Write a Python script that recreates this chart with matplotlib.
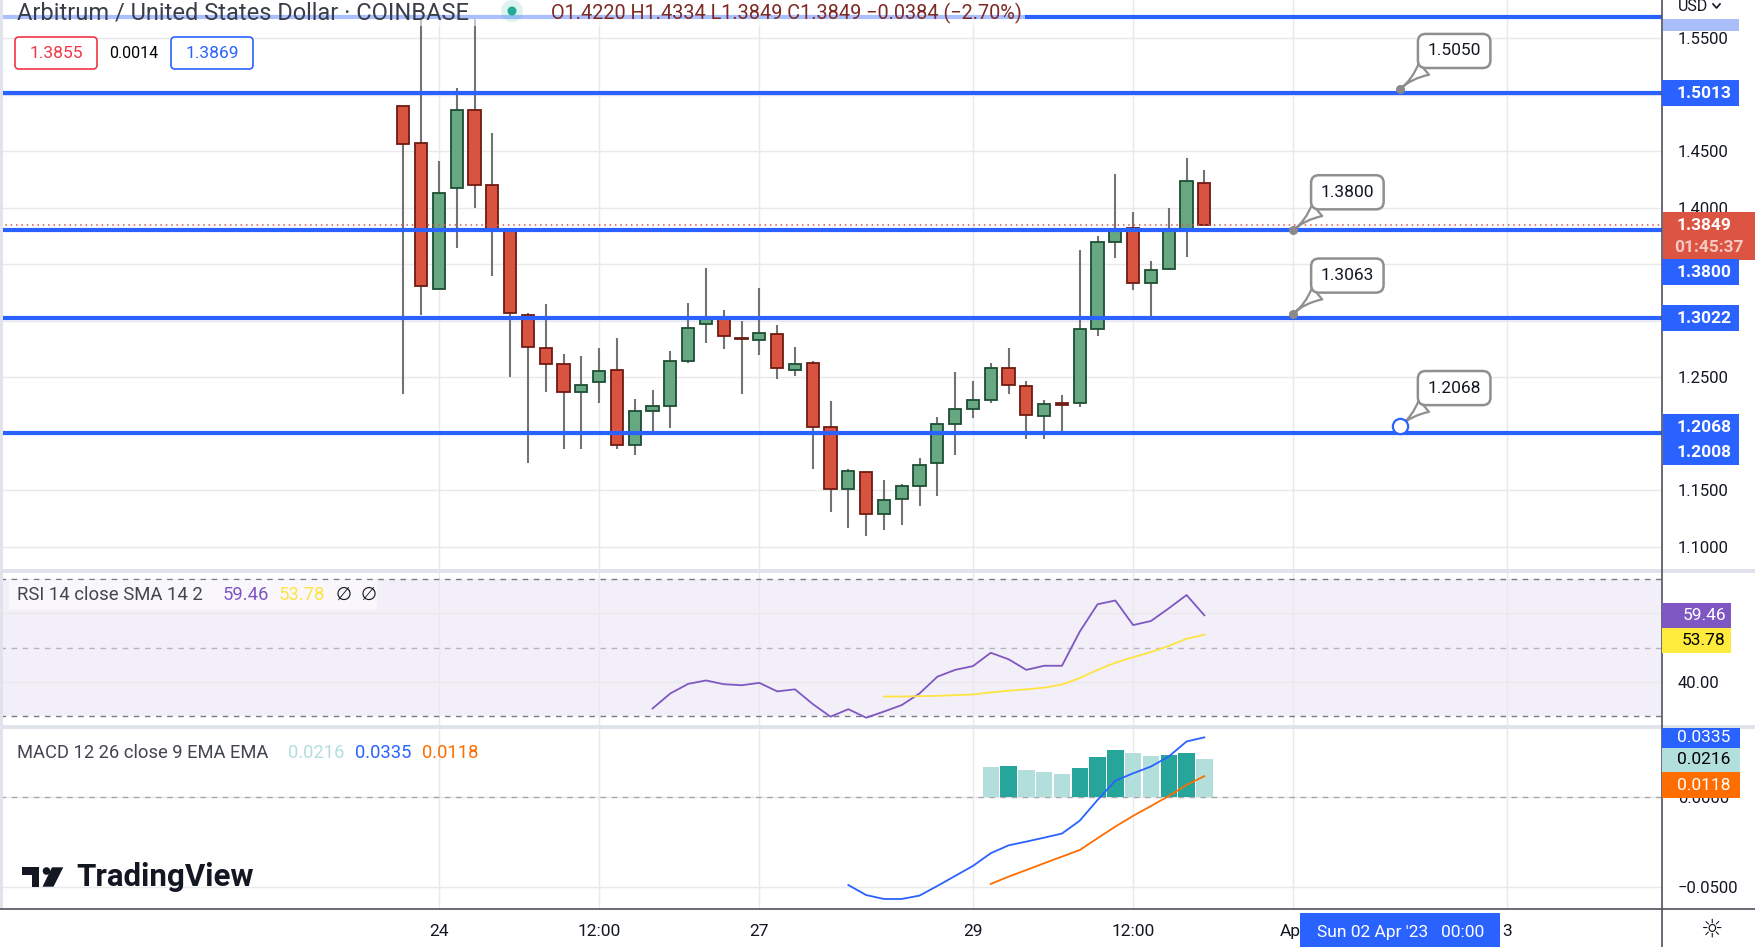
import numpy as np
import matplotlib
matplotlib.use("Agg")
import matplotlib.pyplot as plt
import matplotlib.transforms as mtransforms
from matplotlib.patches import Rectangle, Polygon, Circle, FancyBboxPatch
from matplotlib.lines import Line2D

plt.rcParams['font.family'] = ['Roboto', 'DejaVu Sans']

# ---- candles (index 1..46) ----
opens  = [1.4896, 1.4569, 1.3283, 1.4171, 1.4861, 1.4197, 1.3799, 1.3047, 1.2755, 1.2614,
          1.2366, 1.2454, 1.2560, 1.1897, 1.2198, 1.2242, 1.2640, 1.2967, 1.3029, 1.2845,
          1.2826, 1.2879, 1.2560, 1.2622, 1.2056, 1.1514, 1.1658, 1.1287, 1.1419, 1.1534,
          1.1738, 1.2083, 1.2215, 1.2295, 1.2578, 1.2419, 1.2153, 1.2268, 1.2268, 1.2923,
          1.3693, 1.3817, 1.3330, 1.3454, 1.3799, 1.4220]
highs  = [1.4896, 1.5670, 1.4412, 1.5056, 1.5670, 1.4660, 1.3799, 1.3068, 1.3147, 1.2705,
          1.2687, 1.2758, 1.2846, 1.2307, 1.2387, 1.2731, 1.3156, 1.3466, 1.3094, 1.2997,
          1.3289, 1.2962, 1.2767, 1.2643, 1.2290, 1.1685, 1.1658, 1.1590, 1.1555, 1.1785,
          1.2148, 1.2546, 1.2466, 1.2625, 1.2758, 1.2463, 1.2295, 1.2342, 1.3622, 1.3749,
          1.4297, 1.3961, 1.3528, 1.3997, 1.4439, 1.4334]
lows   = [1.2348, 1.3053, 1.3283, 1.3646, 1.4000, 1.3398, 1.2504, 1.1744, 1.2372, 1.1862,
          1.1867, 1.2268, 1.1862, 1.1814, 1.2024, 1.2053, 1.2628, 1.2805, 1.2746, 1.2348,
          1.2693, 1.2481, 1.2507, 1.1685, 1.1310, 1.1169, 1.1098, 1.1151, 1.1195, 1.1363,
          1.1452, 1.1814, 1.2142, 1.2268, 1.2348, 1.1956, 1.1956, 1.2024, 1.2239, 1.2867,
          1.3557, 1.3274, 1.3041, 1.3445, 1.3566, 1.3849]
closes = [1.4560, 1.3304, 1.4126, 1.4861, 1.4197, 1.3790, 1.3065, 1.2764, 1.2614, 1.2366,
          1.2428, 1.2552, 1.1897, 1.2198, 1.2242, 1.2640, 1.2932, 1.3029, 1.2861, 1.2840,
          1.2888, 1.2578, 1.2614, 1.2056, 1.1509, 1.1670, 1.1287, 1.1410, 1.1534, 1.1720,
          1.2083, 1.2215, 1.2295, 1.2578, 1.2428, 1.2162, 1.2260, 1.2251, 1.2923, 1.3693,
          1.3808, 1.3330, 1.3445, 1.3799, 1.4233, 1.3849]

level_prices = [1.5687, 1.5013, 1.3800, 1.3022, 1.2008]
last_close = 1.3849

callout_x = [57, 51, 51, 57]
callout_y = [1.5050, 1.3800, 1.3063, 1.2068]
callout_text = ['1.5050', '1.3800', '1.3063', '1.2068']

rsi_start = 15
rsi_vals = [32.2, 36.6, 39.4, 40.4, 39.3, 39.0, 39.7, 37.2, 37.8, 33.5, 29.8, 32.0, 29.5, 31.3,
            33.2, 36.6, 41.5, 43.5, 44.6, 48.5, 46.6, 43.5, 44.7, 44.7, 54.7, 62.7, 63.8, 56.6,
            57.8, 61.5, 65.4, 59.46]
rsi_sma_start = 28
rsi_sma = [35.7, 35.7, 35.8, 35.9, 36.1, 36.3, 36.9, 37.4, 37.8, 38.3, 39.2, 41.1, 43.5, 45.6,
           47.2, 48.7, 50.5, 52.6, 53.78]

macd_start = 26
macd_line = [-0.0491, -0.0547, -0.0569, -0.0569, -0.0550, -0.0496, -0.0440, -0.0384, -0.0313,
             -0.0269, -0.0248, -0.0226, -0.0203, -0.0131, -0.0015, 0.0093, 0.0134, 0.0172,
             0.0228, 0.0312, 0.0335]
signal_start = 34
signal_line = [-0.0485, -0.0444, -0.0407, -0.0369, -0.0332, -0.0295, -0.0229, -0.0164, -0.0104,
               -0.0049, 0.0007, 0.0069, 0.0118]
hist_vals = [0.0170, 0.0175, 0.0153, 0.0142, 0.0131, 0.0164, 0.0226, 0.0265, 0.0248, 0.0231,
             0.0234, 0.0248, 0.0216]

time_tick_pos = [3, 12, 21, 33, 42, 51, 63]
time_tick_labels = ['24', '12:00', '27', '29', '12:00', 'Apr', '3']
price_ticks = [1.10, 1.15, 1.20, 1.25, 1.30, 1.35, 1.40, 1.45, 1.50, 1.55]
# price labels that sit fully under a tag are not shown on the chart
hidden_price_ticks = [1.20, 1.30, 1.35, 1.50]
crosshair_x = 57

# ---- figure / panes (pixel layout) ----
W, H = 1756, 947
AX_R = 1662
fig = plt.figure(figsize=(W / 100, H / 100), dpi=100)
ident = mtransforms.IdentityTransform()
GRID = '#e9e9ec'
TXT = '#131722'


def pane(top, bottom):
    return fig.add_axes([0, 1 - bottom / H, AX_R / W, (bottom - top) / H])


ax = pane(0, 571)
ax_rsi = pane(571, 727)
ax_macd = pane(727, 909)

for a in (ax, ax_rsi, ax_macd):
    a.set_xlim(-21.66, 71.71)
    for s in a.spines.values():
        s.set_visible(False)
    a.set_xticks(time_tick_pos)
    a.set_xticklabels(time_tick_labels)
    a.tick_params(length=0, labelbottom=False, labelleft=False, labelright=True,
                  labelsize=12, labelcolor=TXT, pad=11.5)
    a.yaxis.tick_right()
    a.grid(True, color=GRID, lw=1)
    a.set_axisbelow(True)

ax_macd.tick_params(axis='x', labelbottom=True, pad=10.5, labelsize=12.5)

# ---- price pane ----
ax.set_ylim(1.0786, 1.5837)
ax.set_yticks(price_ticks)
ax.set_yticklabels(['' if any(abs(v - h) < 1e-9 for h in hidden_price_ticks) else f'{v:.4f}'
                    for v in price_ticks])

x = np.arange(1, len(opens) + 1)
o, hi, lo, c = map(np.array, (opens, highs, lows, closes))
up = c >= o
body_lo = np.minimum(o, c)
body_h = np.maximum(np.abs(c - o), 0.0007)
ax.vlines(x, lo, hi, color='#737373', lw=1.5, zorder=3)
ax.bar(x[up], body_h[up], 0.69, bottom=body_lo[up], color='#67a883',
       edgecolor='#1e4d33', linewidth=1.3, zorder=4)
ax.bar(x[~up], body_h[~up], 0.69, bottom=body_lo[~up], color='#d95341',
       edgecolor='#6e1b12', linewidth=1.3, zorder=4)

ax.axhline(last_close, color='#e0533f', ls=(0, (1, 2.5)), lw=1.1, zorder=5)
ax.hlines(level_prices, -21.66, 71.71, color='#2962ff', lw=3, zorder=5)

for xv, yv, s in zip(callout_x, callout_y, callout_text):
    ax.annotate(s, xy=(xv, yv), xytext=(54, 38), textcoords='offset pixels',
                ha='center', va='center', fontsize=12.5, color=TXT, zorder=8,
                bbox=dict(boxstyle='round,pad=0.55,rounding_size=0.45', fc='white',
                          ec='#8f8f8f', lw=1.8),
                arrowprops=dict(arrowstyle='wedge,tail_width=0.9,shrink_factor=0.2',
                                fc='white', ec='#8f8f8f', lw=1.6, relpos=(0.18, 0.05),
                                shrinkA=0, shrinkB=0))
ax.plot(callout_x[:3], callout_y[:3], 'o', ms=5.5, color='#8a8a8a', zorder=9)
ax.plot(callout_x[3:], callout_y[3:], 'o', ms=11, mfc='white', mec='#2962ff', mew=1.6, zorder=9)

# ---- RSI pane ----
ax_rsi.set_ylim(26.78, 72.43)
ax_rsi.set_yticks([40, 60])
ax_rsi.set_yticklabels(['40.00', ''])
ax_rsi.axhspan(30, 70, color='#7e57c2', alpha=0.09, lw=0, zorder=0)
ax_rsi.axhline(70, color='#787b86', ls=(0, (4, 4)), lw=1)
ax_rsi.axhline(30, color='#787b86', ls=(0, (4, 4)), lw=1)
ax_rsi.axhline(50, color='#787b86', ls=(0, (4, 4)), lw=1, alpha=0.5)
ax_rsi.plot(np.arange(rsi_start, rsi_start + len(rsi_vals)), rsi_vals, color='#7e57c2', lw=1.3)
ax_rsi.plot(np.arange(rsi_sma_start, rsi_sma_start + len(rsi_sma)), rsi_sma, color='#fde440', lw=1.3)

# ---- MACD pane ----
ax_macd.set_ylim(-0.0625, 0.0393)
ax_macd.set_yticks([-0.05, 0.0])
ax_macd.set_yticklabels(['\u22120.0500', '0.0000'])
ax_macd.axhline(0, color='#787b86', ls=(0, (4, 4)), lw=1, alpha=0.6)
hx = np.arange(signal_start, signal_start + len(hist_vals))
rising = np.r_[False, np.diff(hist_vals) > 0]
ax_macd.bar(hx, hist_vals, 0.92, color=np.where(rising, '#26a69a', '#b2dfdb'), zorder=2)
ax_macd.plot(np.arange(macd_start, macd_start + len(macd_line)), macd_line, color='#2962ff', lw=1.3, zorder=3)
ax_macd.plot(hx, signal_line, color='#ff6d00', lw=1.3, zorder=3)


# ---- overlay decorations in pixel coordinates (top-left origin) ----
def rect(x0, y0, x1, y1, **kw):
    fig.add_artist(Rectangle((x0, H - y1), x1 - x0, y1 - y0, transform=ident, **kw))


def label(xp, yp, s, **kw):
    kw.setdefault('va', 'center')
    fig.text(xp, H - yp, s, transform=ident, **kw)


def ypx(a, v):
    return H - a.transData.transform((0, v))[1]


def tag(yc, s, fc, tc='white', h=26, x0=AX_R, x1=1739, weight='bold', a=None):
    if a is not None:
        yc = ypx(a, yc)
    rect(x0, yc - h / 2, x1, yc + h / 2, fc=fc, ec='none', zorder=5)
    label(1704, yc, s, ha='center', color=tc, fontsize=12.5, weight=weight, zorder=6)


# frame lines
rect(0, 569, W, 573, fc='#e0e3eb', ec='none', zorder=4)
rect(0, 725, W, 729, fc='#e0e3eb', ec='none', zorder=4)
rect(0, 0, 3, 909, fc='#e0e3eb', ec='none', zorder=4)
fig.add_artist(Line2D([0, W], [H - 909, H - 909], color='#50535e', lw=1.2, transform=ident, zorder=4))
fig.add_artist(Line2D([AX_R, AX_R], [0, H], color='#50535e', lw=1.2, transform=ident, zorder=4))

# price axis tags
rect(AX_R + 1, 19, 1739, 31, fc='#a9bef8', ec='none', zorder=5)
tag(level_prices[1], '1.5013', '#2962ff', a=ax)
rect(AX_R + 1, 212, W, 260, fc='#dc5442', ec='none', zorder=5)
label(1704, 225, '1.3849', ha='center', color='white', fontsize=12.5, weight='bold', zorder=6)
label(1709, 247, '01:45:37', ha='center', color='#f6c9c2', fontsize=12.5, weight='bold', zorder=6)
tag(272, '1.3800', '#2962ff')
tag(level_prices[3], '1.3022', '#2962ff', a=ax)
rect(AX_R + 1, 414, 1739, 465, fc='#2962ff', ec='none', zorder=5)
label(1704, 427, '1.2068', ha='center', color='white', fontsize=12.5, weight='bold', zorder=6)
label(1704, 452, '1.2008', ha='center', color='white', fontsize=12.5, weight='bold', zorder=6)
label(1678, 6, 'USD', ha='left', color=TXT, fontsize=11.5, zorder=6)
fig.add_artist(Line2D([1713, 1716.5, 1720], [H - 4, H - 8, H - 4], color=TXT, lw=1.2,
                      transform=ident, zorder=6))

# RSI / MACD tags
tag(615, '59.46', '#7e57c2', h=25, x1=1731, weight='normal')
tag(640.5, '53.78', '#ffeb3b', tc='black', h=25, x1=1731, weight='normal')
tag(737.5, '0.0335', '#2962ff', h=20, x1=1740, weight='normal')
tag(759.5, '0.0216', '#b2dfdb', tc='black', h=24, x1=1740, weight='normal')
tag(785, '0.0118', '#ff6d00', h=26, x1=1740, weight='normal')

# title rows
rect(0, 0, 1025, 26, fc='white', alpha=0.6, ec='none', zorder=2)
label(17, 12.5, 'Arbitrum / United States Dollar \u00b7 COINBASE', ha='left', color='#3b3e48',
      fontsize=17, zorder=6)
fig.add_artist(Circle((512, H - 11), 11, fc='#22ab94', alpha=0.15, ec='none', transform=ident, zorder=5))
fig.add_artist(Circle((512, H - 11), 4.5, fc='#22ab94', ec='none', transform=ident, zorder=6))
label(551, 13, 'O1.4220 H1.4334 L1.3849 C1.3849 \u22120.0384 (\u22122.70%)', ha='left',
      color='#7d2a24', fontsize=14.3, zorder=6)

for x0, s, col in [(15, '1.3855', '#f23645'), (171, '1.3869', '#2962ff')]:
    fig.add_artist(FancyBboxPatch((x0, H - 69), 82, 32, boxstyle='round,pad=0,rounding_size=4',
                                  fc='white', ec=col, lw=1.2, transform=ident, zorder=5))
    label(x0 + 41, 53, s, ha='center', color=col, fontsize=12.5, zorder=6)
label(134, 53, '0.0014', ha='center', color='black', fontsize=11.5, zorder=6)

# indicator legends
rect(9, 580, 377, 610, fc='white', alpha=0.55, ec='none', zorder=5)
label(17, 595, 'RSI 14 close SMA 14 2', ha='left', color='#434651', fontsize=13.3, zorder=6)
for xp, s, col in [(223, '59.46', '#7e57c2'), (279, '53.78', '#fde440'),
                   (336, '\u2205', TXT), (361, '\u2205', TXT)]:
    label(xp, 595, s, ha='left', color=col, fontsize=13.3, zorder=6)
label(17, 753, 'MACD 12 26 close 9 EMA EMA', ha='left', color='#434651', fontsize=13.2, zorder=6)
for xp, s, col in [(288, '0.0216', '#b2dfdb'), (355, '0.0335', '#2962ff'), (422, '0.0118', '#ff6d00')]:
    label(xp, 753, s, ha='left', color=col, fontsize=13.2, zorder=6)

# crosshair time label
cx = ax_macd.transData.transform((crosshair_x, 0))[0]
rect(cx - 100, 913, cx + 100, H, fc='#2962ff', ec='none', zorder=5)
label(cx, 932, "Sun 02 Apr '23   00:00", ha='center', color='white', fontsize=12.5, zorder=6)
label(1712, 930, '\u263c', ha='center', color=TXT, fontsize=18, family='DejaVu Sans', zorder=6)

# TradingView logo
rect(21.7, 867.3, 39.3, 875, fc=TXT, ec='none', zorder=6)
rect(31.7, 867.3, 39.3, 886.7, fc=TXT, ec='none', zorder=6)
fig.add_artist(Circle((46.5, H - 871), 3.8, fc=TXT, ec='none', transform=ident, zorder=6))
fig.add_artist(Polygon([(52, H - 867.3), (63.3, H - 867.3), (53.5, H - 886.7), (42.5, H - 886.7)],
                       closed=True, fc=TXT, ec='none', transform=ident, zorder=6))
label(76, 877, 'TradingView', ha='left', color=TXT, fontsize=22.5, weight='bold', zorder=6)

fig.savefig('out.png', dpi=100, facecolor='white')
